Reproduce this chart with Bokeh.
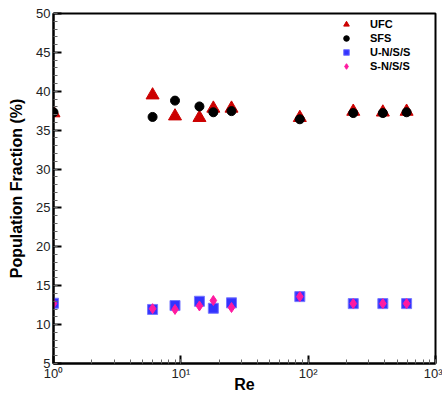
from bokeh.plotting import figure
from bokeh.models import (LogTicker, SingleIntervalTicker, Range1d, Legend, LegendItem, Label)
from bokeh.embed import file_html
from bokeh.resources import INLINE

# Data
re_vals = [1, 6, 9, 14, 18, 25, 86, 226, 386, 593]
ufc = [37.2, 39.5, 36.8, 36.6, 37.8, 37.8, 36.6, 37.4, 37.3, 37.4]
sfs = [37.3, 36.7, 38.8, 38.05, 37.3, 37.45, 36.4, 37.2, 37.2, 37.3]
u_nss = [12.75, 11.95, 12.45, 13.0, 12.1, 12.8, 13.6, 12.7, 12.7, 12.7]
s_nss = [12.7, 12.05, 11.95, 12.4, 13.1, 12.2, 13.6, 12.7, 12.7, 12.7]

x_tick_labels = {1: "10⁰", 10: "10¹", 100: "10²", 1000: "10³"}

p = figure(width=442, height=396, x_axis_type="log",
           x_range=Range1d(1, 1000), y_range=Range1d(5, 50),
           output_backend="svg", toolbar_location=None,
           min_border_left=53, min_border_right=7, min_border_top=13, min_border_bottom=33)

p.xgrid.visible = False
p.ygrid.visible = False
p.outline_line_color = "black"
p.outline_line_width = 2
p.outline_line_alpha = 1
p.background_fill_color = "white"
p.border_fill_color = "white"

r_ufc = p.scatter(re_vals, ufc, marker="triangle", size=13, fill_color="#cc0000",
                  line_color="#cc0000")
r_sfs = p.scatter(re_vals, sfs, marker="circle", size=9, fill_color="black",
                  line_color="black")
r_u = p.scatter(re_vals, u_nss, marker="square", size=10, fill_color="#3333ff",
                line_color="#7777ff", line_width=1)
r_s = p.scatter(re_vals, s_nss, marker="diamond", size=10, fill_color="#ff1aa0",
                line_color="#ff1aa0")

# Axes styling
xa = p.xaxis[0]
xa.ticker = LogTicker(num_minor_ticks=10)
xa.major_label_overrides = x_tick_labels
xa.major_label_standoff = 2
xa.axis_label = "Re"
xa.axis_label_text_font = "Liberation Sans"
xa.axis_label_text_font_style = "bold"
xa.axis_label_text_font_size = "16px"
xa.axis_label_text_color = "black"
xa.axis_label_standoff = -8

ya = p.yaxis[0]
ya.ticker = SingleIntervalTicker(interval=5, num_minor_ticks=5)
ya.axis_label = "Population Fraction (%)"
ya.axis_label_text_font = "Liberation Sans"
ya.axis_label_text_font_style = "bold"
ya.axis_label_text_font_size = "16px"
ya.axis_label_text_color = "black"
ya.axis_label_standoff = 8
ya.major_label_standoff = 3

for ax in (xa, ya):
    ax.axis_line_width = 2
    ax.axis_line_color = "black"
    ax.major_tick_in = 8
    ax.major_tick_out = 0
    ax.major_tick_line_width = 2
    ax.major_tick_line_color = "black"
    ax.minor_tick_in = 4
    ax.minor_tick_out = 0
    ax.minor_tick_line_color = "#666666"
    ax.minor_tick_line_width = 1
    ax.major_label_text_font = "Liberation Sans"
    ax.major_label_text_font_size = "13px"
    ax.major_label_text_color = "#222222"

legend = Legend(items=[
    LegendItem(label="UFC", renderers=[r_ufc]),
    LegendItem(label="SFS", renderers=[r_sfs]),
    LegendItem(label="U-N/S/S", renderers=[r_u]),
    LegendItem(label="S-N/S/S", renderers=[r_s]),
], location=(283, 290))
legend.border_line_alpha = 0
legend.background_fill_alpha = 0
legend.padding = 0
legend.margin = 0
legend.spacing = 0
legend.glyph_width = 20
legend.glyph_height = 14
legend.label_height = 14
legend.label_standoff = 14
legend.label_text_font = "Liberation Sans"
legend.label_text_font_style = "bold"
legend.label_text_font_size = "11px"
legend.label_text_color = "black"
p.add_layout(legend, "center")

open("out.html", "w").write(file_html(p, INLINE))
